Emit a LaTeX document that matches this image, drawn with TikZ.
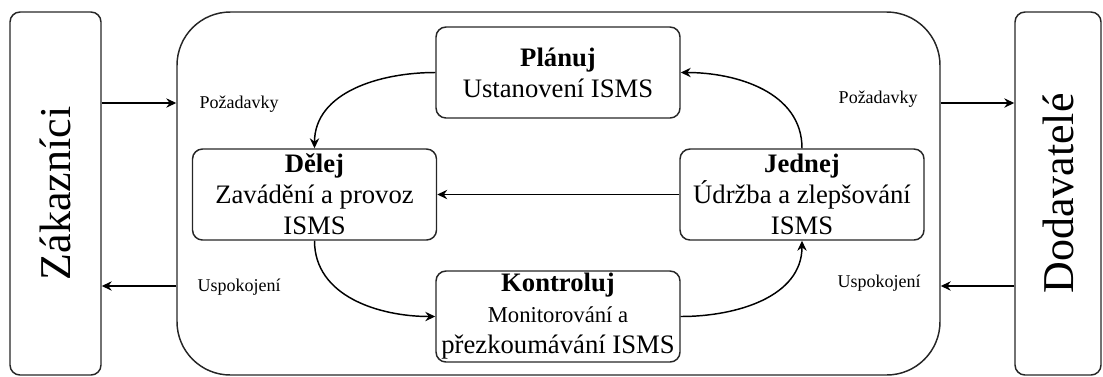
\documentclass[tikz,border=0pt]{standalone}
\usepackage{fontspec}
\setmainfont{Liberation Serif}
\usetikzlibrary{arrows.meta}

\begin{document}
\begin{tikzpicture}[x=0.75pt,y=0.75pt,
  line width=1.1pt,
  partybox/.style={draw=black!85, rounded corners=7.5pt, inner sep=0pt, minimum height=272.25pt},
  orgbox/.style={draw=black!85, rounded corners=40pt, inner sep=0pt,
    minimum width=572.25pt, minimum height=272.25pt},
  stepbox/.style={draw=black!85, rounded corners=7.5pt, inner sep=0pt,
    minimum width=183pt, minimum height=68.25pt, align=center,
    font=\fontsize{20}{23.3}\selectfont},
  flowlabel/.style={anchor=west, inner sep=0pt, font=\fontsize{13.5}{16}\selectfont},
  arr/.style={-{Stealth[length=7.5pt,width=7pt,inset=2.5pt]}, line width=1.1pt}
]
\useasboundingbox (0,0) rectangle (1103,-376);

% parties and the organisation
\node[partybox, minimum width=68.25pt,
  label={[rotate=90, font=\fontsize{33}{38}\selectfont]center:Zákazníci}] (zk) at (55.5,-193.5) {};
\node[orgbox] (org) at (558.5,-193.5) {};
\node[partybox, minimum width=64.5pt,
  label={[rotate=90, font=\fontsize{33}{38}\selectfont]center:Dodavatelé}] (dv) at (1058,-193.5) {};

% PDCA steps
\node[stepbox] (pl) at (558,-72.5) {\textbf{Plánuj}\\Ustanovení ISMS};
\node[stepbox] (dl) at (314.5,-194.5) {\textbf{Dělej}\\Zavádění a provoz\\ISMS};
\node[stepbox] (jd) at (802,-194.5) {\textbf{Jednej}\\Údržba a zlepšování\\ISMS};
\node[stepbox] (kt) at (558,-316.5) {\textbf{Kontroluj}\\\fontsize{17}{23.3}\selectfont Monitorování a\\přezkoumávání ISMS};

% requirements and satisfaction flows
\draw[arr] (zk.east |- 0,-103) -- (org.west |- 0,-103);
\draw[arr] (org.west |- 0,-286) -- (zk.east |- 0,-286);
\draw[arr] (org.east |- 0,-103) -- (dv.west |- 0,-103);
\draw[arr] (dv.west |- 0,-286) -- (org.east |- 0,-286);

\node[flowlabel] (reqL) at (199,-104) {Požadavky};
\node[flowlabel] (satL) at (197,-287) {Uspokojení};
\node[flowlabel] (reqR) at (838,-99) {Požadavky};
\node[flowlabel] (satR) at (837,-283) {Uspokojení};

% PDCA cycle
\draw[arr] (pl.west) to[out=180,in=90] (dl.north);
\draw[arr] (dl.south) to[out=-90,in=180] (kt.west);
\draw[arr] (kt.east) to[out=0,in=-90] (jd.south);
\draw[arr] (jd.north) to[out=90,in=0] (pl.east);
\draw[arr] (jd.west) -- (dl.east);
\end{tikzpicture}
\end{document}
